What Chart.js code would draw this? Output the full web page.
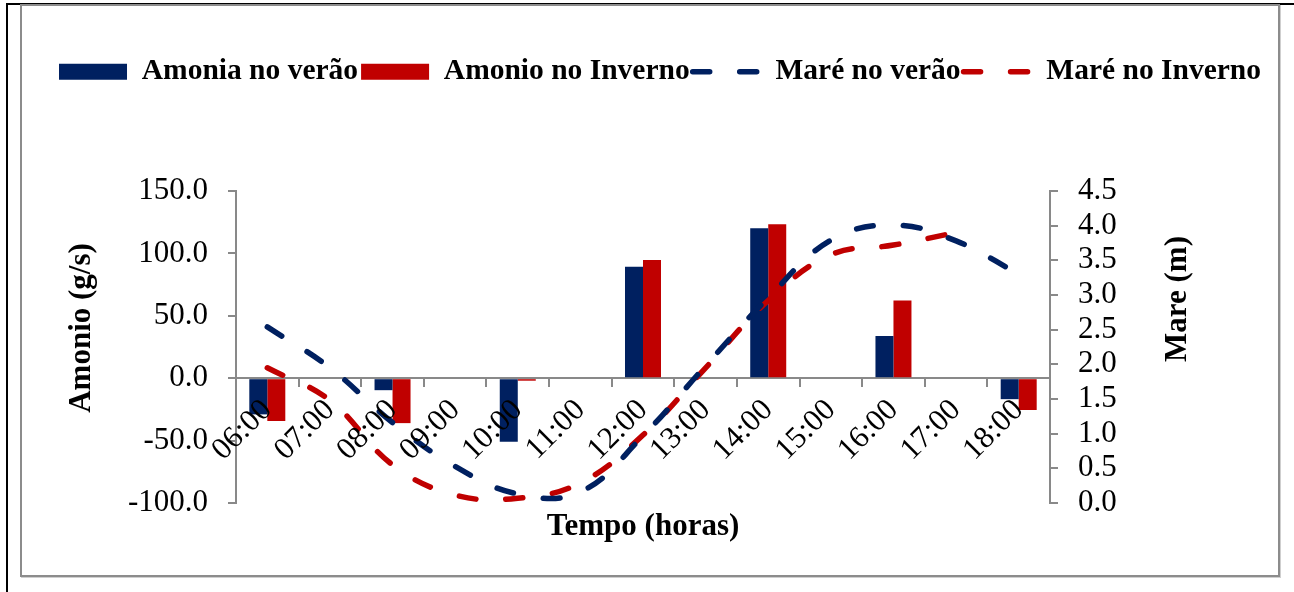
<!DOCTYPE html>
<html><head><meta charset="utf-8">
<script src="https://cdn.jsdelivr.net/npm/chart.js@4.4.1/dist/chart.umd.min.js"></script>
<style>
html,body{margin:0;padding:0;background:#fff;}
#wrap{position:relative;width:1294px;height:592px;overflow:hidden;background:#fff;}
#blackV{position:absolute;left:6px;top:3px;width:2px;height:589px;background:#000;}
#blackH{position:absolute;left:6px;top:3px;width:1288px;height:2px;background:#000;}
#frame{position:absolute;left:20px;top:4px;width:1260px;height:573px;box-sizing:border-box;border:2px solid #8c8c8c;box-shadow:1px 1px 0 #cfcfcf;background:#fff;}
canvas{position:absolute;left:0;top:0;}
</style></head>
<body>
<div id="wrap">
  <div id="blackV"></div><div id="blackH"></div><div id="frame"></div>
  <canvas id="c" width="1294" height="592"></canvas>
</div>
<script>
const categories = ['06:00','07:00','08:00','09:00','10:00','11:00','12:00','13:00','14:00','15:00','16:00','17:00','18:00'];
const amoniaVerao   = [-29, null, -9.6, null, -51, null, 89.4, null, 120.2, null, 33.8, null, -16.8];
const amonioInverno = [-34.3, null, -36, null, -2, null, 94.7, null, 123.4, null, 62.2, null, -25.5];
const mareVerao     = [2.54, 1.95, 1.16, 0.53, 0.13, 0.16, 0.97, 1.98, 2.96, 3.79, 4.01, 3.78, 3.3];
const mareInverno   = [1.95, 1.48, 0.55, 0.115, 0.07, 0.29, 0.98, 1.95, 2.92, 3.58, 3.72, 3.9, null];
const seriesLabels = ['Amonia no verão', 'Amonio no Inverno', 'Maré no verão', 'Maré no Inverno'];
const leftTitle = 'Amonio (g/s)';
const rightTitle = 'Mare (m)';
const xTitle = 'Tempo (horas)';

const BLUE = '#002060', RED = '#C00000', AXIS = '#898989';
const FAMILY = '"Liberation Serif", "Times New Roman", serif';

const axisTitles = {
  id: 'axisTitles',
  afterDraw(chart) {
    const {ctx, chartArea} = chart;
    ctx.save();
    ctx.font = 'bold 31px ' + FAMILY;
    ctx.fillStyle = '#000';
    ctx.textAlign = 'center';
    ctx.textBaseline = 'middle';
    const draw = (t, x, y) => { ctx.save(); ctx.translate(x, y); ctx.rotate(-Math.PI/2); ctx.fillText(t, 0, 0); ctx.restore(); };
    draw(leftTitle, chartArea.left - 154, 328);
    draw(rightTitle, chartArea.right + 128, 299);
    ctx.restore();
  }
};

new Chart(document.getElementById('c'), {
  type: 'bar',
  data: {
    labels: categories,
    datasets: [
      {type:'bar', label: seriesLabels[0], data: amoniaVerao, backgroundColor: BLUE, borderWidth: 0, yAxisID: 'y', order: 1,
       categoryPercentage: 0.575, barPercentage: 1.0},
      {type:'bar', label: seriesLabels[1], data: amonioInverno, backgroundColor: RED, borderWidth: 0, yAxisID: 'y', order: 1,
       categoryPercentage: 0.575, barPercentage: 1.0},
      {type:'line', label: seriesLabels[2], data: mareVerao, borderColor: BLUE, backgroundColor: BLUE, borderWidth: 5.5,
       borderDash: [17, 30], borderCapStyle: 'round', pointRadius: 0, tension: 0.4, fill: false, yAxisID: 'y1', order: 0},
      {type:'line', label: seriesLabels[3], data: mareInverno, borderColor: RED, backgroundColor: RED, borderWidth: 5.5,
       borderDash: [17, 30], borderCapStyle: 'round', pointRadius: 0, tension: 0.4, fill: false, yAxisID: 'y1', order: 0}
    ]
  },
  options: {
    responsive: false,
    animation: false,
    layout: { padding: { top: 54, left: 26, right: 0, bottom: 46.4 } },
    plugins: {
      tooltip: { enabled: false },
      legend: {
        position: 'top',
        labels: {
          usePointStyle: true,
          pointStyleWidth: 68,
          boxHeight: 16,
          padding: 3,
          color: '#000',
          font: { family: FAMILY, size: 29.5, weight: 'bold' },
          generateLabels: (chart) => chart.data.datasets.map((ds, i) => ({
            text: ds.label,
            fillStyle: ds.backgroundColor,
            strokeStyle: ds.borderColor || ds.backgroundColor,
            lineWidth: ds.type === 'line' ? ds.borderWidth : 0,
            lineDash: ds.borderDash || [],
            lineCap: ds.borderCapStyle || 'butt',
            pointStyle: ds.type === 'line' ? 'line' : 'rect',
            hidden: false,
            fontColor: '#000',
            datasetIndex: i
          }))
        }
      },
      subtitle: { display: true, text: '', position: 'top', weight: 500, font: { size: 10 }, padding: { top: 82.5, bottom: 0 } },
      title: { display: true, text: xTitle, position: 'bottom', fullSize: false, color: '#000',
               font: { family: FAMILY, size: 31, weight: 'bold' }, padding: { top: 5.4, bottom: 0 } }
    },
    scales: {
      x: {
        type: 'category',
        position: { y: 0 },
        offset: true,
        grid: { display: true, offset: true, drawOnChartArea: false, drawTicks: true, tickLength: 8, color: AXIS, lineWidth: 2 },
        border: { display: true, color: AXIS, width: 2 },
        ticks: { z: 1, autoSkip: false, minRotation: 45, maxRotation: 45, padding: 6, color: '#000', font: { family: FAMILY, size: 31 } }
      },
      y: {
        position: 'left',
        min: -100, max: 150,
        afterFit(s) { s.width = 210; },
        grid: { drawOnChartArea: false, drawTicks: true, tickLength: 8, color: AXIS, lineWidth: 2 },
        border: { display: true, color: AXIS, width: 2 },
        ticks: { stepSize: 50, autoSkip: false, padding: 20, color: '#000', font: { family: FAMILY, size: 31 }, callback: v => Number(v).toFixed(1) }
      },
      y1: {
        position: 'right',
        min: 0, max: 4.5,
        afterFit(s) { s.width = 244; },
        grid: { drawOnChartArea: false, drawTicks: true, tickLength: 8, color: AXIS, lineWidth: 2 },
        border: { display: true, color: AXIS, width: 2 },
        ticks: { stepSize: 0.5, autoSkip: false, padding: 20, color: '#000', font: { family: FAMILY, size: 31 }, callback: v => Number(v).toFixed(1) }
      }
    }
  },
  plugins: [axisTitles]
});
</script>
</body></html>
